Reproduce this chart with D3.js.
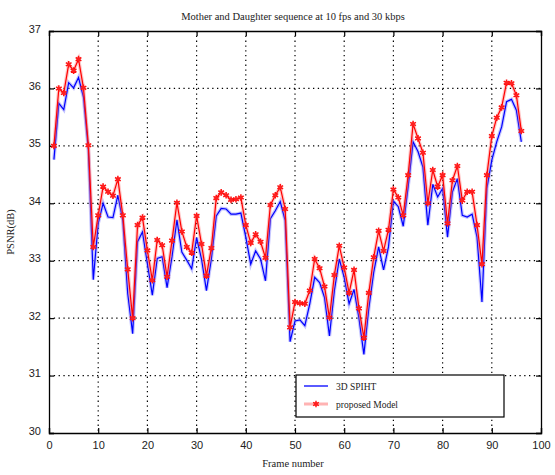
<!DOCTYPE html>
<html><head><meta charset="utf-8">
<script src="https://cdn.jsdelivr.net/npm/d3@7"></script>
<style>body{margin:0;background:#fff}</style>
</head><body><svg id="c" width="555" height="475"></svg>
<script>
const frames = d3.range(1, 97);
const spiht = [34.76,35.74,35.63,36.10,36.01,36.19,35.85,34.93,32.67,33.65,
34.00,33.76,33.75,34.14,33.70,32.43,31.73,33.33,33.50,32.95,
32.40,33.04,33.07,32.53,33.07,33.71,33.15,33.01,32.86,33.40,
33.03,32.48,33.03,33.78,33.91,33.90,33.81,33.81,33.83,33.41,
32.94,33.17,33.03,32.65,33.73,33.87,34.03,33.70,31.59,31.95,
31.97,31.87,32.25,32.71,32.62,32.36,31.69,32.48,33.03,32.71,
32.25,32.50,32.00,31.37,32.17,32.80,33.24,32.84,33.24,34.04,
33.94,33.60,34.29,35.07,34.90,34.63,33.62,34.33,34.11,34.26,
33.41,34.20,34.43,33.79,33.76,33.81,33.41,32.28,34.26,34.75,
35.07,35.33,35.77,35.81,35.62,35.07];
const proposed = [35.00,36.00,35.92,36.42,36.31,36.51,36.01,35.01,33.24,33.79,
34.29,34.20,34.13,34.42,33.79,32.85,32.00,33.62,33.75,33.18,
32.66,33.36,33.27,32.72,33.35,34.01,33.51,33.24,33.14,33.78,
33.29,32.74,33.22,34.09,34.19,34.14,34.06,34.07,34.10,33.62,
33.31,33.46,33.33,33.05,33.97,34.14,34.28,33.90,31.84,32.28,
32.26,32.25,32.48,33.03,32.87,32.55,32.01,32.75,33.26,32.88,
32.44,32.84,32.17,31.66,32.44,33.06,33.52,33.17,33.54,34.24,
34.10,33.79,34.49,35.38,35.13,34.88,34.00,34.58,34.29,34.49,
33.65,34.40,34.65,34.05,34.20,34.20,33.62,32.94,34.49,35.17,
35.49,35.67,36.10,36.09,35.88,35.26];
const xTicks = [0,10,20,30,40,50,60,70,80,90,100];
const yTicks = [30,31,32,33,34,35,36,37];
const seriesNames = ["3D SPIHT", "proposed Model"];
const title = "Mother and Daughter sequence at 10 fps and 30 kbps";

const svg = d3.select("#c");
const L = 49, R = 541, T = 31, B = 433;
const x = d3.scaleLinear().domain([0,100]).range([L,R]);
const y = d3.scaleLinear().domain([30,37]).range([B,T]);

// grid
const g = svg.append("g");
g.selectAll(".vg").data(xTicks.slice(1,-1)).join("line")
  .attr("x1", d=>x(d)).attr("x2", d=>x(d)).attr("y1", T).attr("y2", B)
  .attr("stroke", "#000").attr("stroke-width", 1.2).attr("stroke-dasharray", "1.3,3.5");
g.selectAll(".hg").data(yTicks.slice(1,-1)).join("line")
  .attr("y1", d=>y(d)).attr("y2", d=>y(d)).attr("x1", L).attr("x2", R)
  .attr("stroke", "#000").attr("stroke-width", 1.2).attr("stroke-dasharray", "1.3,3.5");

// axes
const fontAx = "Liberation Sans, Arial, sans-serif";
const xb = svg.append("g").attr("transform", `translate(0,${B})`)
  .call(d3.axisBottom(x).tickValues(xTicks).tickSize(-5).tickPadding(8).tickFormat(d3.format("d")));
const xt = svg.append("g").attr("transform", `translate(0,${T})`)
  .call(d3.axisTop(x).tickValues(xTicks).tickSize(-5).tickFormat(""));
const yl = svg.append("g").attr("transform", `translate(${L},0)`)
  .call(d3.axisLeft(y).tickValues(yTicks).tickSize(-5).tickPadding(8).tickFormat(d3.format("d")));
const yr = svg.append("g").attr("transform", `translate(${R},0)`)
  .call(d3.axisRight(y).tickValues(yTicks).tickSize(-5).tickFormat(""));
[xb,xt,yl,yr].forEach(a=>{
  a.select(".domain").attr("stroke","#000").attr("stroke-width",1.3);
  a.selectAll(".tick line").attr("stroke","#000").attr("stroke-width",1.2);
  a.selectAll("text").attr("font-family", fontAx).attr("font-size", 11).attr("fill","#222");
});
yl.selectAll(".tick text").attr("dy","0.1em");

// lines
const line = d3.line().x((d,i)=>x(frames[i])).y(d=>y(d));
svg.append("path").datum(spiht).attr("d", line).attr("fill","none")
  .attr("stroke","#6f6fff").attr("stroke-opacity",0.4).attr("stroke-width",3.5);
svg.append("path").datum(spiht).attr("d", line).attr("fill","none")
  .attr("stroke","#0000ff").attr("stroke-width",1.2);
svg.append("path").datum(proposed).attr("d", line).attr("fill","none")
  .attr("stroke","#ff7070").attr("stroke-opacity",0.4).attr("stroke-width",3.5);
svg.append("path").datum(proposed).attr("d", line).attr("fill","none")
  .attr("stroke","#ff0000").attr("stroke-width",1.2);

const star = d3.symbol().type(d3.symbolAsterisk).size(30);
svg.selectAll(".mk").data(proposed).join("path")
  .attr("transform",(d,i)=>`translate(${x(frames[i])},${y(d)})`)
  .attr("d", star).attr("fill","none").attr("stroke","#ff1010").attr("stroke-width",1.5);
svg.selectAll(".mc").data(proposed).join("circle")
  .attr("cx",(d,i)=>x(frames[i])).attr("cy",d=>y(d)).attr("r",1.8).attr("fill","#ff2020");

// title & labels
const fontT = "Liberation Serif, Times New Roman, serif";
svg.append("text").attr("x",293).attr("y",20).attr("text-anchor","middle")
  .attr("font-family",fontT).attr("font-size",10.5).attr("fill","#222").text(title);
svg.append("text").attr("x",293).attr("y",467).attr("text-anchor","middle")
  .attr("font-family",fontT).attr("font-size",10.5).attr("fill","#222").text("Frame number");
svg.append("text").attr("transform","translate(14,232) rotate(-90)").attr("text-anchor","middle")
  .attr("font-family",fontT).attr("font-size",10.5).attr("fill","#222").text("PSNR(dB)");

// legend
const lg = svg.append("g").attr("transform","translate(296,375)");
lg.append("rect").attr("width",208).attr("height",42).attr("fill","#fff")
  .attr("stroke","#000").attr("stroke-width",1.2);
const ly = [11, 29];
lg.append("line").attr("x1",8).attr("x2",32).attr("y1",ly[0]).attr("y2",ly[0])
  .attr("stroke","#0000ff").attr("stroke-width",1.3);
lg.append("line").attr("x1",8).attr("x2",32).attr("y1",ly[1]).attr("y2",ly[1])
  .attr("stroke","#ff8080").attr("stroke-width",3).attr("stroke-opacity",0.6);
lg.append("path").attr("transform",`translate(20,${ly[1]})`).attr("d",star)
  .attr("fill","none").attr("stroke","#ff1010").attr("stroke-width",1.4);
lg.append("circle").attr("cx",20).attr("cy",ly[1]).attr("r",2).attr("fill","#ff2020");
lg.selectAll(".lt").data(seriesNames).join("text")
  .attr("x",40).attr("y",(d,i)=>ly[i]+3.5)
  .attr("font-family",fontT).attr("font-size",9.5).attr("fill","#222").text(d=>d);
</script></body></html>
